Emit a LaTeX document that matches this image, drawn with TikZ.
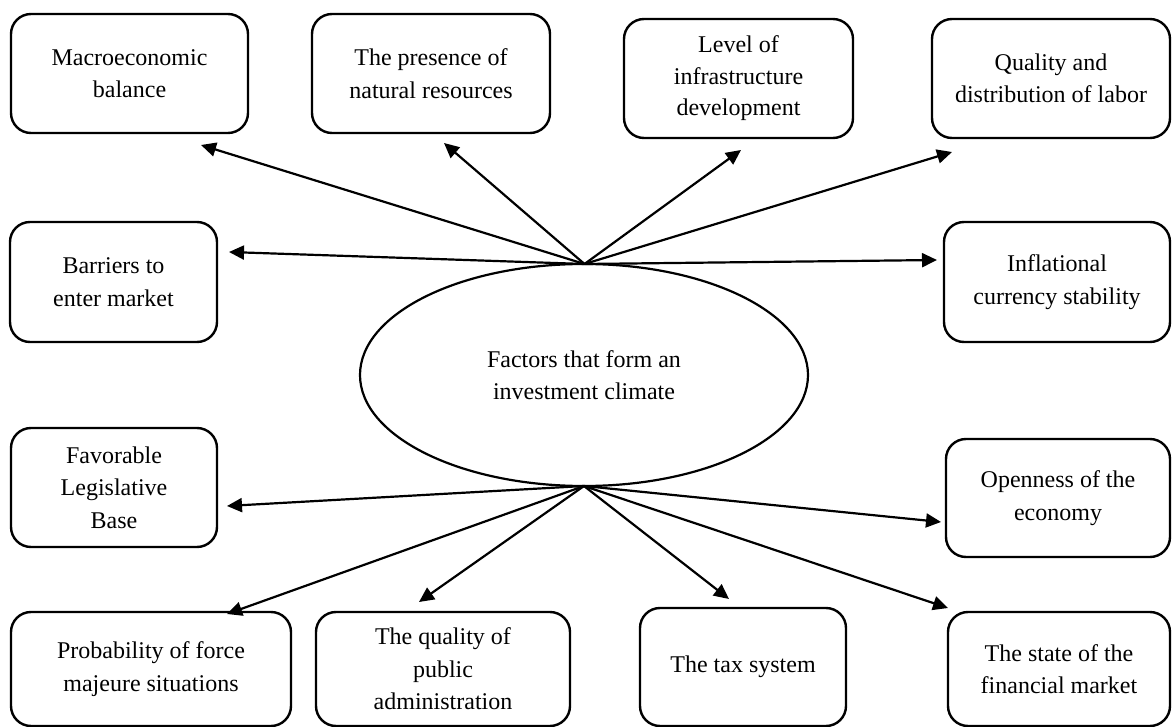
\documentclass[tikz,border=0pt]{standalone}
\usepackage{fontspec}
\setmainfont{Liberation Serif}
\usetikzlibrary{arrows.meta,shapes.geometric}
\tikzset{
  fbox/.style={draw, line width=2.4pt, rounded corners=20pt, align=center, inner sep=0pt,
    font=\fontsize{24}{32.5}\selectfont},
  hubell/.style={draw, ellipse, line width=2.2pt, inner sep=0pt, align=center,
    minimum width=448pt, minimum height=222pt, font=\fontsize{24}{32}\selectfont},
  conn/.style={line width=2.2pt, -{Triangle[length=15pt,width=14pt]}}
}
\begin{document}
\begin{tikzpicture}[x=1pt,y=-1pt]
\useasboundingbox (0,0) rectangle (1173,727);
% boxes
\node[fbox, minimum width=237pt, minimum height=119pt] (macro) at (129.5,73.5) {Macroeconomic\\balance};
\node[fbox, minimum width=238pt, minimum height=119pt] (pres) at (431,73.5) {The presence of\\natural resources};
\node[fbox, minimum width=229pt, minimum height=119pt, font=\fontsize{24}{31.5}\selectfont] (level) at (738.5,78.5) {Level of\\infrastructure\\development};
\node[fbox, minimum width=238pt, minimum height=119pt] (qual) at (1051,78.5) {Quality and\\distribution of labor};
\node[fbox, minimum width=207pt, minimum height=120pt] (barr) at (113.5,282) {Barriers to\\enter market};
\node[fbox, minimum width=226pt, minimum height=120pt] (infl) at (1057,282) {Inflational\\currency stability};
\node[fbox, minimum width=206pt, minimum height=119pt] (favor) at (114,487.5) {Favorable\\Legislative\\Base};
\node[fbox, minimum width=224pt, minimum height=118pt] (open) at (1058,498) {Openness of the\\economy};
\node[fbox, minimum width=280pt, minimum height=114pt] (prob) at (151,669) {Probability of force\\majeure situations};
\node[fbox, minimum width=254pt, minimum height=114pt] (admin) at (443,669) {The quality of\\public\\administration};
\node[fbox, minimum width=206pt, minimum height=118pt] (tax) at (743,667) {The tax system};
\node[fbox, minimum width=222pt, minimum height=114pt] (fin) at (1059,669) {The state of the\\financial market};
% central ellipse
\node[hubell] (core) at (584,375) {Factors that form an\\investment climate};
% hubs
\coordinate (hubT) at (584.5,264);
\coordinate (hubB) at (584,486);
% arrow tips
\coordinate (tMacro) at (201,145);
\coordinate (tPres) at (444,143);
\coordinate (tLevel) at (741,150);
\coordinate (tQual) at (952,152);
\coordinate (tBarr) at (229,252);
\coordinate (tInfl) at (937,260);
\coordinate (tFavor) at (227,506);
\coordinate (tOpen) at (941,522);
\coordinate (tProb) at (227,614);
\coordinate (tAdmin) at (419,602);
\coordinate (tTax) at (729,599);
\coordinate (tFin) at (948,608);
% connectors
\draw[conn] (hubT) -- (tMacro);
\draw[conn] (hubT) -- (tPres);
\draw[conn] (hubT) -- (tLevel);
\draw[conn] (hubT) -- (tQual);
\draw[conn] (hubT) -- (tBarr);
\draw[conn] (hubT) -- (tInfl);
\draw[conn] (hubB) -- (tFavor);
\draw[conn] (hubB) -- (tOpen);
\draw[conn] (hubB) -- (tProb);
\draw[conn] (hubB) -- (tAdmin);
\draw[conn] (hubB) -- (tTax);
\draw[conn] (hubB) -- (tFin);
\end{tikzpicture}
\end{document}
